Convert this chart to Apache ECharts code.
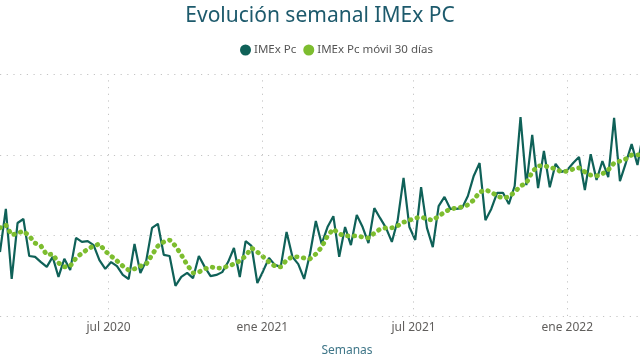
<!DOCTYPE html>
<html>
<head>
<meta charset="utf-8">
<script src="https://cdn.jsdelivr.net/npm/echarts@6/dist/echarts.min.js"></script>
<style>
html,body{margin:0;padding:0;background:#fff;}
#c{width:640px;height:364px;}
</style>
</head>
<body>
<div id="c"></div>
<script>
// Weekly series starting at this date (one value per week)
const startDate = '2020-02-22';
const viewStart = '2020-02-22';
const viewEnd = '2022-03-29';

const imexPc = [
  75.9, 86.6, 69.2, 83.1, 84.1, 74.9, 74.7, 73.4, 72.2, 74.7,
  69.7, 74.2, 71.4, 79.4, 78.4, 78.6, 77.6, 73.9, 71.7, 73.4,
  72.4, 70.2, 69.2, 77.9, 70.7, 73.7, 81.9, 82.9, 75.2, 74.9,
  67.5, 69.7, 70.7, 69.4, 74.9, 72.2, 69.9, 70.2, 70.9, 73.4,
  76.9, 69.7, 78.6, 77.4, 68.2, 71.2, 74.4, 72.7, 72.2, 80.9,
  74.7, 72.9, 69.2, 75.4, 83.6, 77.9, 82.1, 84.8, 74.7, 82.1,
  77.6, 85.1, 82.1, 78.1, 86.8, 84.3, 81.9, 78.4, 83.8, 94.3,
  82.1, 78.9, 92.0, 81.9, 77.1, 87.3, 89.6, 86.6, 86.6, 86.8,
  89.8, 94.8, 98.0, 83.8, 86.6, 90.6, 90.6, 87.8, 92.3, 109.4,
  92.5, 105.0, 91.8, 101.0, 92.0, 97.8, 95.8, 96.3, 98.0, 99.5,
  91.3, 100.2, 93.8, 98.5, 94.5, 109.2, 93.5, 98.0, 102.7, 97.5,
  105.7
];

const imexPcMovil30 = [
  81.9, 82.6, 80.1, 80.6, 81.1, 79.9, 78.1, 77.4, 75.2, 75.4,
  73.2, 72.2, 72.4, 74.4, 75.6, 76.6, 77.4, 77.9, 76.1, 74.9,
  73.7, 72.4, 71.4, 71.7, 72.4, 72.9, 75.2, 77.4, 78.4, 78.9,
  77.4, 75.2, 72.7, 70.7, 70.9, 71.7, 72.2, 71.9, 71.9, 72.4,
  72.9, 73.7, 74.9, 76.9, 75.9, 74.7, 73.4, 72.4, 72.2, 73.9,
  74.7, 74.7, 74.4, 74.2, 75.4, 77.1, 79.9, 81.6, 80.4, 79.9,
  79.9, 79.9, 79.6, 79.4, 80.6, 81.6, 81.9, 81.9, 82.4, 83.3,
  83.8, 84.3, 84.6, 84.1, 83.8, 84.8, 85.8, 86.6, 86.8, 87.1,
  87.6, 88.8, 90.8, 91.3, 90.8, 89.8, 89.3, 89.6, 90.8, 92.3,
  93.0, 95.8, 97.3, 97.3, 97.0, 96.5, 95.8, 96.0, 96.5, 96.8,
  95.8, 95.0, 94.8, 95.3, 96.3, 98.0, 98.5, 99.0, 100.0, 100.0,
  100.2
];

const tickDates = ['2020-07-01', '2021-01-01', '2021-07-01', '2022-01-01'];
const tickLabels = ['jul 2020', 'ene 2021', 'jul 2021', 'ene 2022'];

const yMin = 60, yMax = 120, yInterval = 20;

const DAY = 86400000;
function ts(s) { const p = s.split('-').map(Number); return Date.UTC(p[0], p[1] - 1, p[2]); }
const t0 = ts(startDate);
function dayIdx(s) { return Math.round((ts(s) - t0) / DAY); }
const weekDays = imexPc.map((_, i) => i * 7);
const tickDays = tickDates.map(dayIdx);

const chart = echarts.init(document.getElementById('c'), null, {renderer: 'canvas'});
const FONT = 'Noto Sans';
const GRID_STYLE = {color: '#c4c4c4', width: 1, type: [1.2, 5.5]};
chart.setOption({
  animation: false,
  backgroundColor: '#ffffff',
  title: {
    text: 'Evolución semanal IMEx PC',
    left: 'center',
    top: 1,
    textStyle: {fontFamily: FONT, fontSize: 21, fontWeight: 'normal', color: '#1d5a6c'}
  },
  legend: {
    top: 39,
    left: 235,
    icon: 'circle',
    itemWidth: 11,
    itemHeight: 11,
    itemGap: 7,
    textStyle: {fontFamily: FONT, fontSize: 11.5, color: '#555', padding: [0, 0, 0, -2]},
    data: ['IMEx Pc', 'IMEx Pc móvil 30 días']
  },
  grid: {left: 0, right: 0, top: 74.5, bottom: 48, containLabel: false},
  xAxis: {
    type: 'value',
    min: dayIdx(viewStart),
    max: dayIdx(viewEnd),
    name: 'Semanas',
    nameLocation: 'middle',
    nameGap: 29,
    nameTextStyle: {fontFamily: FONT, fontSize: 12, color: '#3f7688', padding: [0, 0, 0, 54]},
    axisLine: {show: false},
    axisTick: {show: false},
    splitLine: {show: false},
    axisLabel: {
      customValues: tickDays,
      fontFamily: FONT,
      fontSize: 12,
      color: '#605e5c',
      margin: 6,
      formatter: function (v) {
        const i = tickDays.indexOf(Math.round(v));
        return i >= 0 ? tickLabels[i] : '';
      }
    }
  },
  yAxis: {
    type: 'value',
    min: yMin,
    max: yMax,
    interval: yInterval,
    axisLabel: {show: false},
    axisLine: {show: false},
    axisTick: {show: false},
    splitLine: {show: true, lineStyle: GRID_STYLE}
  },
  series: [
    {
      name: 'IMEx Pc',
      type: 'line',
      data: weekDays.map((d, i) => [d, imexPc[i]]),
      showSymbol: false,
      color: '#0f6158',
      lineStyle: {width: 2.2, color: '#0f6158'},
      z: 3,
      markLine: {
        silent: true,
        symbol: 'none',
        animation: false,
        label: {show: false},
        lineStyle: GRID_STYLE,
        data: tickDays.map(d => ({xAxis: d}))
      }
    },
    {
      name: 'IMEx Pc móvil 30 días',
      type: 'line',
      data: weekDays.map((d, i) => [d, imexPcMovil30[i]]),
      showSymbol: false,
      color: '#7dbd2f',
      lineStyle: {width: 4.8, color: '#7dbd2f', type: [0.5, 6.3], cap: 'round'},
      z: 4
    }
  ]
});
</script>
</body>
</html>
